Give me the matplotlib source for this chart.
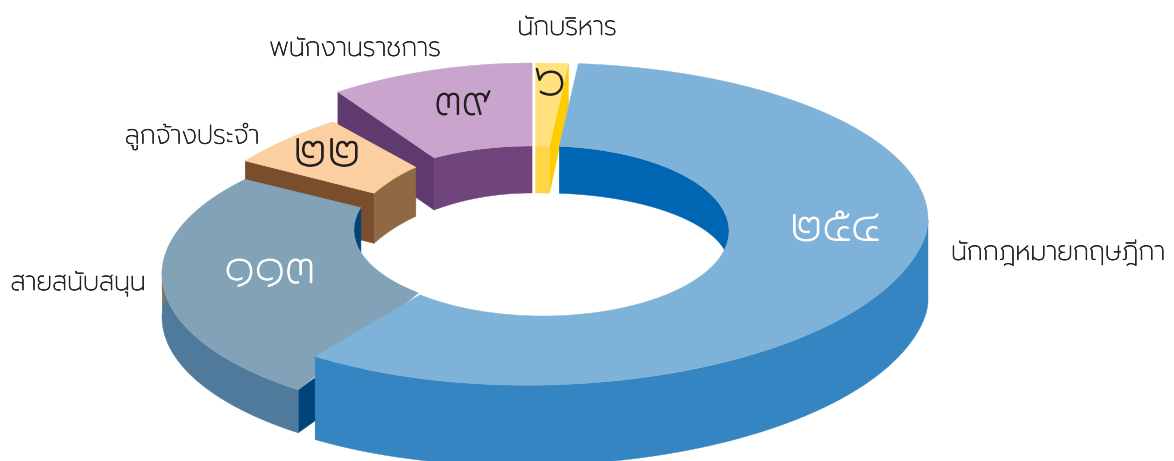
import numpy as np
import matplotlib
matplotlib.use('Agg')
import matplotlib.pyplot as plt
import matplotlib.patheffects as pe
from matplotlib.patches import Polygon

plt.rcParams['font.family'] = ['Prompt', 'DejaVu Sans']

# ---------- data ----------
categories = ['นักกฎหมายกฤษฎีกา', 'สายสนับสนุน', 'ลูกจ้างประจำ', 'พนักงานราชการ', 'นักบริหาร']
values = [254, 113, 22, 39, 6]
THAI = str.maketrans('0123456789', '๐๑๒๓๔๕๖๗๘๙')

# ---------- angles from the values ----------
START = 5.0
edges = START + np.concatenate([[0], np.cumsum(values)]) / sum(values) * 360.0
BLUE, SLATE, ORANGE, PURPLE, YELLOW = range(5)


def arc(e, a0, a1, n=90):
    """Points on an ellipse (cx, cy, rx, ry); angle clockwise from the top."""
    cx, cy, rx, ry = e
    t = np.radians(np.linspace(a0, a1, n))
    return np.column_stack([cx + rx * np.sin(t), cy - ry * np.cos(t)])


def blue_outer(a0, a1, n=240):
    """Blue rim: flatter above the centre line, slightly sheared below it."""
    t = np.radians(np.linspace(a0, a1, n))
    x = 545 + 383 * np.sin(t)
    c = np.cos(t)
    y = 220 - np.where(c > 0, 157 * c, 165 * c + 0.02 * (x - 545) * np.tanh(-5 * c))
    return np.column_stack([x, y])


def blue_bottom(a0, a1, n=240):
    p = blue_outer(a0, a1, n)
    p[:, 1] += 80 + 0.013 * np.maximum(0, 545 - p[:, 0])
    return p


def down(p, d):
    return p + np.array([0, d])


fig = plt.figure(figsize=(11.74, 4.61), dpi=100)
ax = fig.add_axes([0, 0, 1, 1])
ax.set_xlim(0, 1174)
ax.set_ylim(461, 0)
ax.axis('off')


def fill(points, color):
    ax.add_patch(Polygon(np.vstack(points), closed=True, facecolor=color,
                         edgecolor=color, linewidth=0.3, joinstyle='round'))


# ---------- purple ----------
a0, a1 = edges[PURPLE], edges[PURPLE + 1]
po = (532, 250, 363, 187)
pi_ = (532, 223, 183, 77)
pb = (532, 303, 183, 110)
s_o, s_i, s_b = arc(po, a0, a0, 1), arc(pi_, a0, a0, 1), arc(pb, a0, a0, 1)
fill([s_o, s_i, s_b, down(s_o, 51)], '#5e3a6e')
fill([arc(pi_, a0, a1), arc(pb, a1, a0)], '#70457c')
fill([arc(po, a0, a1), arc(pi_, a1, a0)], '#c9a5ce')

# ---------- yellow ----------
a0, a1 = edges[YELLOW] - 360, edges[YELLOW + 1] - 360
yo = (535.5, 63 + 160, 379, 160)
yi = (535.5, 146 + 80, 161, 80)
yb = (535.5, 193 + 80, 161, 80)
e_o, e_i, e_b = arc(yo, a1, a1, 1), arc(yi, a1, a1, 1), arc(yb, a1, a1, 1)
fill([e_o, e_i, e_b, down(e_o, 41)], '#ffcc00')
fill([arc(yi, a0, a1), arc(yb, a1, a0)], '#ffd54a')
fill([arc(yo, a0, a1), arc(yi, a1, a0)], '#ffe27e')

# ---------- blue, wall behind the hole ----------
bi = (543, 231, 186, 85)
bb = (543, 266, 186, 73)
a0, a1 = edges[BLUE], edges[BLUE + 1]
fill([arc(bi, a0, 103), arc(bb, 103, a0)], '#0066b3')

# ---------- orange ----------
a0, a1 = edges[ORANGE], edges[ORANGE + 1]
oo = (531, 279, 370, 186)
oi = (510, 272, 176, 124)
ob = (510, 325, 176, 128.6)
s_o, s_i, s_b = arc(oo, a0, a0, 1), arc(oi, a0, a0, 1), arc(ob, a0, a0, 1)
fill([s_o, s_i, s_b, down(s_o, 50)], '#7a4e2d')
fill([arc(oi, a0, a1), arc(ob, a1, a0)], '#8f6844')
fill([arc(oo, a0, a1), arc(oi, a1, a0)], '#fbcfa0')

# ---------- slate ----------
a0, a1 = edges[SLATE] + 1.8, edges[SLATE + 1] + 1.0
so = (510, 274, 348, 146)
si = (545, 230, 191, 84)
SD = 43
s_o, s_i = arc(so, a0, a0, 1), arc(si, a0, a0, 1)
s_m = s_o + 0.5 * (s_i - s_o)
fill([s_o, s_m, down(s_m, SD), down(s_o, SD)], '#00457a')
fill([arc(so, a0, 272), down(arc(so, 272, a0), SD)], '#4f7a9b')
fill([down(arc(so, 269, 263, 20), 5), down(arc(so, 263, 269, 20), 12)], '#b0702f')
fill([arc(si, 254.5, 285.5, 40)], '#00457a')
fill([arc(so, a0, a1), arc(si, 285.5, a0 + 4)], '#82a2b8')

# ---------- blue ----------
a0, a1 = edges[BLUE], edges[BLUE + 1] + 1.2
fill([blue_outer(90, a1), blue_bottom(a1, 90)], '#3585c3')
fill([blue_outer(a0, a1), arc(bi, a1 + 4.5, a0, 240)], '#7fb2d9')

# ---------- texts ----------
label_xy = [(1058, 253), (78, 284), (192, 137), (355, 49), (567, 28)]
number_xy = [(835, 228), (270, 270), (327, 153), (463, 103), (550, 82)]
number_size = [33.5, 34, 35, 30.5, 34]
number_col = ['white', 'white', '#231f20', '#231f20', '#231f20']
for name, xy in zip(categories, label_xy):
    ax.text(*xy, name, ha='center', va='center', fontsize=18.7, weight=200, color='#222222',
            path_effects=[pe.withStroke(linewidth=0.5, foreground='#222222')])
for v, xy, c, fs in zip(values, number_xy, number_col, number_size):
    ax.text(*xy, str(v).translate(THAI), ha='center', va='center',
            fontsize=fs, weight=200, color=c,
            path_effects=[pe.withStroke(linewidth=0.9, foreground=c)])

fig.savefig('out.png', dpi=100)
